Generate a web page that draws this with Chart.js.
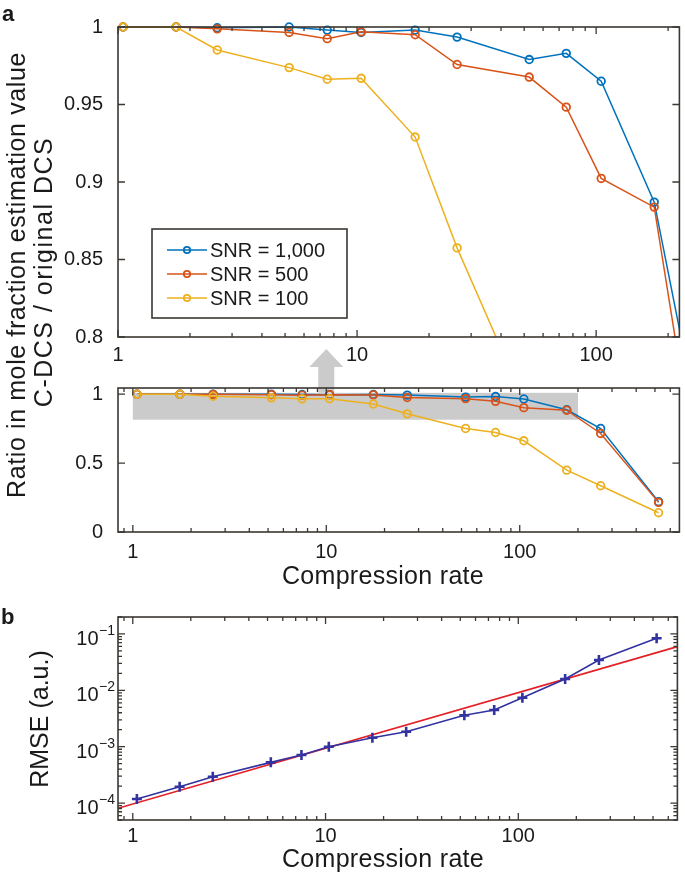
<!DOCTYPE html>
<html><head><meta charset="utf-8">
<script src="https://cdn.jsdelivr.net/npm/chart.js@4"></script>
<style>
html,body{margin:0;padding:0;background:#fff;}
#wrap{position:relative;width:685px;height:879px;overflow:hidden;font-family:"Liberation Sans",Arial,sans-serif;color:#1a1a1a;}
canvas{position:absolute;left:0;}
.lbl{position:absolute;white-space:nowrap;line-height:1;}
.rot{transform:translate(-50%,-50%) rotate(-90deg);}
.hc{transform:translateX(-50%);}
</style></head>
<body><div id="wrap">
<canvas id="cTop" style="top:0px" width="685" height="380"></canvas>
<canvas id="cMid" style="top:340px" width="685" height="260"></canvas>
<canvas id="cBot" style="top:600px" width="685" height="279"></canvas>
<div class="lbl" style="left:2px;top:3px;font-size:22px;font-weight:bold;">a</div>
<div class="lbl" style="left:1px;top:606px;font-size:22px;font-weight:bold;">b</div>
<div class="lbl rot" style="left:15.5px;top:274.5px;font-size:25px;letter-spacing:0.6px;">Ratio in mole fraction estimation value</div>
<div class="lbl rot" style="left:42.5px;top:272px;font-size:25px;letter-spacing:1.5px;">C-DCS / original DCS</div>
<div class="lbl rot" style="left:38.5px;top:719px;font-size:25px;">RMSE (a.u.)</div>
<div class="lbl hc" style="left:383px;top:563px;font-size:25px;letter-spacing:0.3px;">Compression rate</div>
<div class="lbl hc" style="left:383px;top:845.5px;font-size:25px;letter-spacing:0.3px;">Compression rate</div>
</div>
<script>
// ---------------- data ----------------
const compressionRate = [1.05, 1.75, 2.6, 5.2, 7.5, 10.4, 17.5, 26.2, 52.5, 75, 105, 175, 262, 522];
const snr1000 = [1.0, 1.0, 0.9995, 1.0, 0.998, 0.9965, 0.998, 0.9935, 0.979, 0.983, 0.965, 0.887, 0.751, 0.22];
const snr500  = [1.0, 1.0, 0.9988, 0.9965, 0.9925, 0.9969, 0.995, 0.9758, 0.9677, 0.9483, 0.9023, 0.8838, 0.715, 0.215];
const snr100  = [1.0, 1.0, 0.9852, 0.9738, 0.9663, 0.9669, 0.929, 0.8575, 0.751, 0.722, 0.662, 0.449, 0.336, 0.14];
const seriesLabels = ['SNR = 1,000', 'SNR = 500', 'SNR = 100'];
const rmse = [1.18e-4, 1.95e-4, 2.93e-4, 5.27e-4, 7.1e-4, 1.0e-3, 1.44e-3, 1.84e-3, 3.6e-3, 4.48e-3, 7.4e-3, 1.59e-2, 3.45e-2, 8.4e-2];
const fitX = [0.838, 669];
const fitY = [8.05e-5, 0.0596];
const xTickLabels = [1, 10, 100];
const topYTicks = [0.8, 0.85, 0.9, 0.95, 1];
const midYTicks = [0, 0.5, 1];
const rmseYTicks = [1e-4, 1e-3, 1e-2, 1e-1];
const rmseYExp = ['\u22124', '\u22123', '\u22122', '\u22121'];
const grayBoxX = [1, 200];
const grayBoxY = [0.815, 1.01];
const arrowX = 10;

// ---------------- style ----------------
const AXIS = '#3b3733';
const C_BLUE = '#0072BD', C_RED = '#D95319', C_YEL = '#EDB120';
const C_RMSE = '#3232a0', C_FIT = '#e41f26';
const FONT = '"Liberation Sans", Arial, sans-serif';
Chart.defaults.font.family = FONT;
Chart.defaults.font.size = 20;
Chart.defaults.color = '#1a1a1a';

function logTicks(min, max) {
  const major = [], minor = [];
  for (let e = Math.floor(Math.log10(min)) - 1; e <= Math.ceil(Math.log10(max)); e++) {
    for (let m = 1; m <= 9; m++) {
      const v = m * Math.pow(10, e);
      if (v < min * 0.9999 || v > max * 1.0001) continue;
      (m === 1 ? major : minor).push(v);
    }
  }
  return { major, minor };
}

const frame = {
  id: 'frame',
  afterDatasetsDraw(chart, args, o) {
    const { ctx, chartArea: a } = chart;
    const xs = chart.scales.x, ys = chart.scales.y;
    ctx.save();
    ctx.strokeStyle = AXIS; ctx.lineWidth = 1.3;
    ctx.beginPath();
    const vx = (vals, len) => vals.forEach(v => {
      const p = xs.getPixelForValue(v);
      if (p < a.left - 0.5 || p > a.right + 0.5) return;
      ctx.moveTo(p, a.bottom); ctx.lineTo(p, a.bottom - len);
      ctx.moveTo(p, a.top); ctx.lineTo(p, a.top + len);
    });
    const vy = (vals, len) => vals.forEach(v => {
      const p = ys.getPixelForValue(v);
      if (p < a.top - 0.5 || p > a.bottom + 0.5) return;
      ctx.moveTo(a.left, p); ctx.lineTo(a.left + len, p);
      ctx.moveTo(a.right, p); ctx.lineTo(a.right - len, p);
    });
    vx(o.xMajor || [], 7); vx(o.xMinor || [], 4);
    vy(o.yMajor || [], 7); vy(o.yMinor || [], 4);
    ctx.stroke();
    ctx.lineWidth = 1.6;
    ctx.strokeRect(a.left, a.top, a.right - a.left, a.bottom - a.top);
    ctx.restore();
  }
};

const snrLegend = {
  id: 'snrLegend',
  afterDraw(chart, args, o) {
    const { ctx, chartArea: a } = chart;
    const bx = a.left + o.dx, by = a.top + o.dy;
    ctx.save();
    ctx.fillStyle = '#fff';
    ctx.fillRect(bx, by, o.w, o.h);
    ctx.strokeStyle = AXIS; ctx.lineWidth = 1.6;
    ctx.strokeRect(bx, by, o.w, o.h);
    chart.data.datasets.forEach((d, i) => {
      const yy = by + 21 + i * 24;
      ctx.strokeStyle = d.borderColor; ctx.lineWidth = 1.5;
      ctx.beginPath(); ctx.moveTo(bx + 15, yy); ctx.lineTo(bx + 55, yy); ctx.stroke();
      ctx.lineWidth = 1.8;
      ctx.beginPath(); ctx.arc(bx + 35, yy, 3.2, 0, Math.PI * 2); ctx.stroke();
      ctx.fillStyle = '#1a1a1a';
      ctx.font = '20px ' + FONT;
      ctx.textBaseline = 'middle'; ctx.textAlign = 'left';
      ctx.fillText(d.label, bx + 58, yy + 1);
    });
    ctx.restore();
  }
};

const zoomMark = {
  id: 'zoomMark',
  beforeDatasetsDraw(chart, args, o) {
    const { ctx, chartArea: a } = chart;
    const xs = chart.scales.x, ys = chart.scales.y;
    const x1 = xs.getPixelForValue(grayBoxX[0]), x2 = xs.getPixelForValue(grayBoxX[1]);
    const yt = ys.getPixelForValue(grayBoxY[1]), yb = ys.getPixelForValue(grayBoxY[0]);
    ctx.save();
    ctx.fillStyle = '#cbcbcb';
    ctx.fillRect(x1, yt, x2 - x1, yb - yt);
    const cx = xs.getPixelForValue(arrowX);
    const tip = a.top - 39, headBase = a.top - 21;
    ctx.beginPath();
    ctx.moveTo(cx, tip);
    ctx.lineTo(cx + 17, headBase);
    ctx.lineTo(cx + 8, headBase);
    ctx.lineTo(cx + 8, yt);
    ctx.lineTo(cx - 8, yt);
    ctx.lineTo(cx - 8, headBase);
    ctx.lineTo(cx - 17, headBase);
    ctx.closePath();
    ctx.fill();
    ctx.restore();
  }
};

const powLabels = {
  id: 'powLabels',
  afterDraw(chart) {
    const { ctx, chartArea: a } = chart;
    const ys = chart.scales.y;
    ctx.save();
    ctx.fillStyle = '#1a1a1a';
    ctx.textAlign = 'right'; ctx.textBaseline = 'alphabetic';
    rmseYTicks.forEach((v, i) => {
      const p = ys.getPixelForValue(v);
      const right = a.left - 3;
      ctx.font = '14px ' + FONT;
      const ew = ctx.measureText(rmseYExp[i]).width;
      ctx.fillText(rmseYExp[i], right, p + 1);
      ctx.font = '20px ' + FONT;
      ctx.fillText('10', right - ew - 0.5, p + 11);
    });
    ctx.restore();
  }
};

function lineDs(label, xs, ys, color, order, clip) {
  return {
    label, order, clip,
    data: xs.map((x, i) => ({ x, y: ys[i] })),
    borderColor: color, borderWidth: 1.5,
    pointStyle: 'circle', pointRadius: 3.8, pointBorderWidth: 1.8,
    pointBorderColor: color, pointBackgroundColor: 'rgba(0,0,0,0)',
    pointHoverRadius: 3.8, tension: 0, fill: false
  };
}

function xAxis(min, max, h, pad) {
  return {
    type: 'logarithmic', min, max,
    grid: { display: false, drawTicks: false }, border: { display: false },
    afterBuildTicks: s => { s.ticks = xTickLabels.filter(v => v >= min && v <= max).map(v => ({ value: v })); },
    afterFit: s => { s.height = h; },
    ticks: { padding: pad, autoSkip: false, maxRotation: 0, minRotation: 0, callback: v => String(v) }
  };
}
function yLinAxis(min, max, ticks) {
  return {
    type: 'linear', min, max,
    grid: { display: false, drawTicks: false }, border: { display: false },
    afterBuildTicks: s => { s.ticks = ticks.map(v => ({ value: v })); },
    afterFit: s => { s.width = 118; },
    ticks: { padding: 15, callback: v => String(v) }
  };
}
const common = { responsive: false, animation: false, events: [] };

// ---------------- top panel ----------------
const topX = [1, 223];
const topXT = logTicks(topX[0], topX[1]);
const clipTop = { left: 10, top: 10, right: 0, bottom: 0 };
new Chart(document.getElementById('cTop'), {
  type: 'line',
  data: { datasets: [
    lineDs(seriesLabels[0], compressionRate, snr1000, C_BLUE, 3, clipTop),
    lineDs(seriesLabels[1], compressionRate, snr500, C_RED, 2, clipTop),
    lineDs(seriesLabels[2], compressionRate, snr100, C_YEL, 1, clipTop)
  ]},
  options: Object.assign({}, common, {
    layout: { padding: { top: 17, left: 0, right: 1, bottom: 0 } },
    plugins: {
      legend: { display: false }, tooltip: { enabled: false },
      frame: { xMajor: topXT.major, xMinor: topXT.minor, yMajor: topYTicks, yMinor: [] },
      snrLegend: { dx: 34, dy: 202, w: 195, h: 89 }
    },
    scales: { x: xAxis(topX[0], topX[1], 43, 6.5), y: yLinAxis(0.8, 1, topYTicks) }
  }),
  plugins: [frame, snrLegend]
});

// ---------------- middle panel ----------------
const fullX = [0.838, 669];
const fullXT = logTicks(fullX[0], fullX[1]);
const clipAll = 10;
new Chart(document.getElementById('cMid'), {
  type: 'line',
  data: { datasets: [
    lineDs(seriesLabels[0], compressionRate, snr1000, C_BLUE, 3, clipAll),
    lineDs(seriesLabels[1], compressionRate, snr500, C_RED, 2, clipAll),
    lineDs(seriesLabels[2], compressionRate, snr100, C_YEL, 1, clipAll)
  ]},
  options: Object.assign({}, common, {
    layout: { padding: { top: 48, left: 0, right: 1, bottom: 0 } },
    plugins: {
      legend: { display: false }, tooltip: { enabled: false },
      frame: { xMajor: fullXT.major, xMinor: fullXT.minor, yMajor: midYTicks, yMinor: [] }
    },
    scales: { x: xAxis(fullX[0], fullX[1], 68, 8), y: yLinAxis(0, 1.045, midYTicks) }
  }),
  plugins: [zoomMark, frame]
});

// ---------------- bottom panel ----------------
const rmseY = [5e-5, 0.2];
const rmseYT = logTicks(rmseY[0], rmseY[1]);
new Chart(document.getElementById('cBot'), {
  type: 'line',
  data: { datasets: [
    { label: 'RMSE', order: 1, clip: clipAll,
      data: compressionRate.map((x, i) => ({ x, y: rmse[i] })),
      borderColor: C_RMSE, borderWidth: 1.6, pointStyle: 'cross', pointRadius: 5,
      pointBorderWidth: 2.6, pointBorderColor: C_RMSE, pointBackgroundColor: C_RMSE, tension: 0 },
    { label: 'Fit', order: 2, clip: 0,
      data: fitX.map((x, i) => ({ x, y: fitY[i] })),
      borderColor: C_FIT, borderWidth: 1.6, pointRadius: 0, tension: 0 }
  ]},
  options: Object.assign({}, common, {
    layout: { padding: { top: 17, left: 0, right: 1, bottom: 0 } },
    plugins: {
      legend: { display: false }, tooltip: { enabled: false },
      frame: { xMajor: fullXT.major, xMinor: fullXT.minor, yMajor: rmseYT.major, yMinor: rmseYT.minor }
    },
    scales: {
      x: xAxis(fullX[0], fullX[1], 59, 4),
      y: { type: 'logarithmic', min: rmseY[0], max: rmseY[1],
           grid: { display: false, drawTicks: false }, border: { display: false },
           afterBuildTicks: s => { s.ticks = rmseYTicks.map(v => ({ value: v })); },
           afterFit: s => { s.width = 118; },
           ticks: { display: false } }
    }
  }),
  plugins: [frame, powLabels]
});
</script>
</body></html>
